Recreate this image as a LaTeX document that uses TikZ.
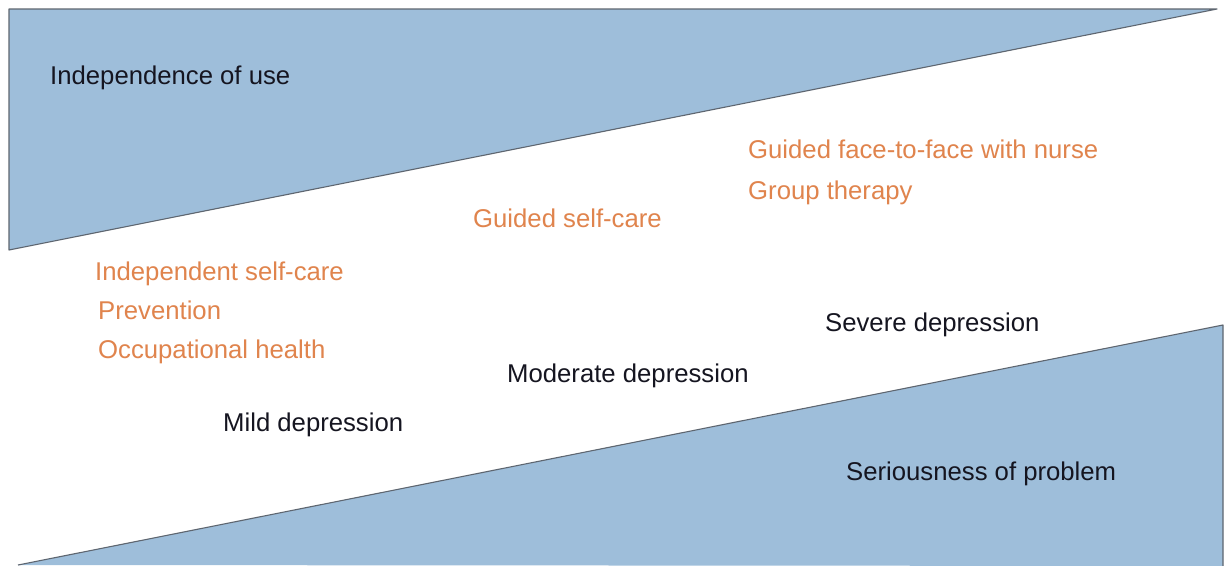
\documentclass[tikz,border=0pt]{standalone}
\usepackage{fontspec}
\setmainfont{Liberation Sans}
\definecolor{bandfill}{HTML}{9EBEDA}
\definecolor{bandline}{HTML}{5E6670}
\definecolor{orangetxt}{HTML}{E0844D}
\definecolor{darktxt}{HTML}{151520}
\begin{document}
\begin{tikzpicture}[x=1pt,y=-1pt,
  band/.style={fill=bandfill,draw=bandline,line width=1.1pt,line join=round},
  lbl/.style={inner sep=0pt,anchor=base west,font=\fontsize{25.7}{30}\selectfont},
  care/.style={lbl,text=orangetxt},
  lvl/.style={lbl,text=darktxt}]
\useasboundingbox (0,0) rectangle (1225,565);
\fill[white] (0,0) rectangle (1225,565);
% top wedge
\coordinate (tl) at (9,9);
\coordinate (tr) at (1217,9);
\coordinate (bl) at (9,250);
\draw[band] (tl) -- (tr) -- (bl) -- cycle;
% bottom wedge
\coordinate (b1) at (18,565);
\coordinate (b2) at (1223,325);
\coordinate (b3) at (1223,566);
\fill[bandfill] (b1) -- (b2) -- (b3) -- cycle;
\draw[bandline,line width=1.1pt,line join=round] (b1) -- (b2) -- (b3);
% labels
\node[lvl] (indep) at (50,84) {Independence of use};
\node[care] (gf2f) at (748,158) {Guided face-to-face with nurse};
\node[care] (group) at (748,199) {Group therapy};
\node[care] (gsc) at (473,227) {Guided self-care};
\node[care] (isc) at (95,280) {Independent self-care};
\node[care] (prev) at (98,319) {Prevention};
\node[care] (occ) at (98,358) {Occupational health};
\node[lvl] (severe) at (825,331) {Severe depression};
\node[lvl] (moderate) at (507,382) {Moderate depression};
\node[lvl] (mild) at (223,431) {Mild depression};
\node[lvl] (serious) at (846,480) {Seriousness of problem};
\end{tikzpicture}
\end{document}
